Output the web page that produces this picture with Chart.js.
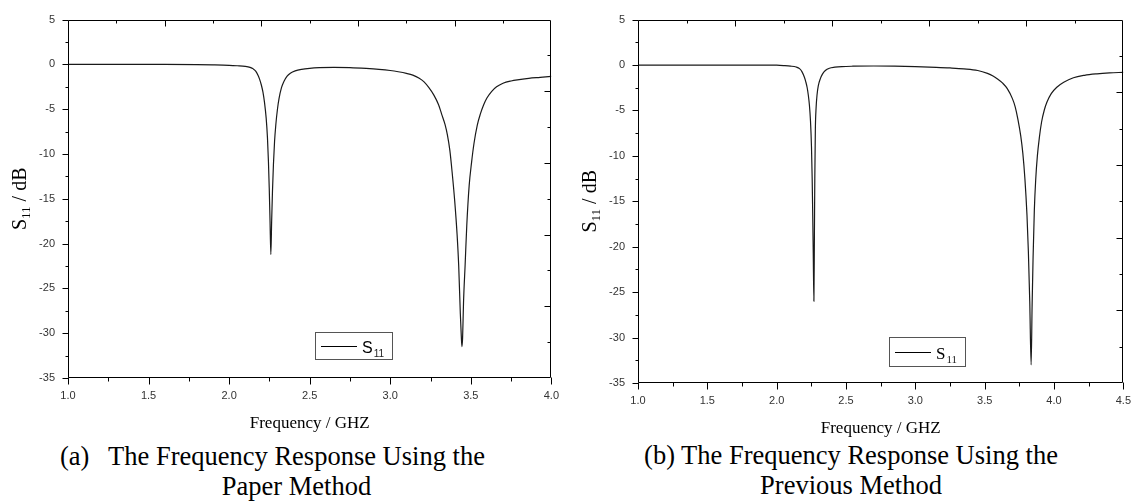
<!DOCTYPE html>
<html>
<head>
<meta charset="utf-8">
<script src="https://cdn.jsdelivr.net/npm/chart.js@4.4.1/dist/chart.umd.min.js"></script>
<style>
  body { margin: 0; background: #fff; width: 1142px; height: 501px; position: relative; overflow: hidden; }
  .box { position: absolute; top: 0; height: 440px; }
  .cap { position: absolute; font-family: "Liberation Serif", "Times New Roman", serif; font-size: 26.5px; color: #000; white-space: nowrap; }
</style>
</head>
<body>
<div class="box" style="left:0;width:570px"><canvas id="chartA"></canvas></div>
<div class="box" style="left:570px;width:572px"><canvas id="chartB"></canvas></div>
<div class="cap" style="left:60px;top:441px;line-height:30px">(a)</div>
<div class="cap" style="left:108px;top:441px;width:377px;text-align:center;line-height:30px">The Frequency Response Using the<br>Paper Method</div>
<div class="cap" style="left:643px;top:441px;width:416px;text-align:center;line-height:29.5px">(b) The Frequency Response Using the<br>Previous Method</div>
<script>
// (a) paper method
var freqA = [1.0, 1.2, 1.4, 1.6, 1.8, 1.9, 2.0, 2.05, 2.1, 2.13,
  2.15, 2.165, 2.18, 2.19, 2.2, 2.21, 2.22, 2.23, 2.238, 2.244,
  2.249, 2.254, 2.259, 2.264, 2.269, 2.275, 2.282, 2.29, 2.3, 2.31,
  2.325, 2.34, 2.36, 2.38, 2.41, 2.45, 2.5, 2.56, 2.65, 2.75,
  2.85, 2.93, 3.0, 3.05, 3.1, 3.14, 3.18, 3.21, 3.24, 3.27,
  3.3, 3.32, 3.34, 3.355, 3.37, 3.385, 3.4, 3.415, 3.425, 3.435,
  3.441, 3.445, 3.449, 3.455, 3.465, 3.475, 3.49, 3.505, 3.52, 3.54,
  3.56, 3.58, 3.6, 3.63, 3.66, 3.7, 3.75, 3.8, 3.86, 3.93,
  4.0];
var s11A = [0, 0, 0, 0, -0.02, -0.05, -0.1, -0.15, -0.22, -0.33,
  -0.5, -0.75, -1.25, -1.7, -2.3, -3.1, -4.3, -6.0, -8.2, -10.8,
  -13.8, -17.5, -21.2, -17.5, -14.2, -11.2, -8.6, -6.7, -5.0, -3.8,
  -2.6, -1.9, -1.3, -0.98, -0.72, -0.55, -0.44, -0.37, -0.33, -0.36,
  -0.45, -0.55, -0.68, -0.82, -1.0, -1.2, -1.55, -1.95, -2.6, -3.4,
  -4.5, -5.6, -6.7, -7.9, -9.6, -12.2, -15.2, -19.0, -22.5, -27.8,
  -30.3, -31.5, -30.6, -26.5, -22.3, -18.0, -13.5, -10.9, -8.8, -6.8,
  -5.5, -4.5, -3.75, -3.0, -2.5, -2.1, -1.85, -1.7, -1.55, -1.44,
  -1.33];

// (b) previous method
var freqB = [1.0, 1.5, 1.9, 2.0, 2.05, 2.1, 2.14, 2.165, 2.183, 2.2,
  2.21, 2.22, 2.228, 2.236, 2.244, 2.251, 2.256, 2.26, 2.264, 2.2685,
  2.272, 2.275, 2.279, 2.284, 2.291, 2.3, 2.315, 2.33, 2.351, 2.38,
  2.42, 2.47, 2.55, 2.7, 2.85, 3.0, 3.15, 3.25, 3.35, 3.45,
  3.52, 3.56, 3.59, 3.63, 3.663, 3.7, 3.72, 3.74, 3.76, 3.775,
  3.79, 3.805, 3.815, 3.825, 3.835, 3.842, 3.849, 3.858, 3.868, 3.88,
  3.895, 3.91, 3.93, 3.95, 3.98, 4.02, 4.07, 4.14, 4.22, 4.31,
  4.4, 4.5];
var s11B = [0, 0, 0, -0.02, -0.06, -0.12, -0.22, -0.4, -0.75, -1.35,
  -1.85, -2.5, -3.3, -4.4, -6.2, -9.0, -12.5, -16.5, -21.0, -26.0,
  -19.0, -12.5, -7.0, -4.8, -3.3, -2.3, -1.5, -1.0, -0.6, -0.35,
  -0.24, -0.17, -0.13, -0.11, -0.13, -0.17, -0.25, -0.32, -0.42, -0.6,
  -0.92, -1.2, -1.5, -2.0, -2.6, -3.7, -4.6, -6.0, -7.8, -9.7,
  -12.5, -16.5, -20.5, -26.0, -33.0, -26.5, -21.2, -16.0, -12.6, -10.0,
  -7.9, -6.3, -4.95, -4.05, -3.15, -2.45, -1.9, -1.4, -1.13, -0.97,
  -0.87, -0.8];

var xTicksA = [1.0, 1.5, 2.0, 2.5, 3.0, 3.5, 4.0];
var xTicksB = [1.0, 1.5, 2.0, 2.5, 3.0, 3.5, 4.0, 4.5];
var yTicks = [5, 0, -5, -10, -15, -20, -25, -30, -35];

// frame, minor ticks, axis titles and legend box
var framePlugin = {
  id: 'frame',
  afterDraw: function (chart, args, o) {
    var ctx = chart.ctx, a = chart.chartArea;
    var x = chart.scales.x, y = chart.scales.y;
    var L = Math.round(a.left) + 0.5, R = Math.round(a.right) - 0.5;
    var T = Math.round(a.top) + 0.5, B = Math.round(a.bottom) - 0.5;
    ctx.save();
    ctx.strokeStyle = '#000';
    ctx.lineWidth = 1;
    ctx.beginPath();
    ctx.rect(L, T, R - L, B - T);

    // bottom + left: outward ticks at the labelled values, minors half way
    var xt = o.xTicks, yt = o.yTicks, i, p, v;
    for (i = 0; i < xt.length; i++) {
      p = Math.round(x.getPixelForValue(xt[i])) + 0.5;
      ctx.moveTo(p, B); ctx.lineTo(p, B + 7);
      if (i < xt.length - 1) {
        p = Math.round(x.getPixelForValue((xt[i] + xt[i + 1]) / 2)) + 0.5;
        ctx.moveTo(p, B); ctx.lineTo(p, B + 4);
      }
    }
    for (i = 0; i < yt.length; i++) {
      p = Math.round(y.getPixelForValue(yt[i])) + 0.5;
      ctx.moveTo(L, p); ctx.lineTo(L - 6, p);
      if (i < yt.length - 1) {
        p = Math.round(y.getPixelForValue((yt[i] + yt[i + 1]) / 2)) + 0.5;
        ctx.moveTo(L, p); ctx.lineTo(L - 3, p);
      }
    }
    // top + right: inward ticks, ten divisions
    for (i = 1; i < 10; i++) {
      v = x.min + (x.max - x.min) * i / 10;
      p = Math.round(x.getPixelForValue(v)) + 0.5;
      ctx.moveTo(p, T); ctx.lineTo(p, T + (i % 2 ? 3 : 6));
      v = y.min + (y.max - y.min) * i / 10;
      p = Math.round(y.getPixelForValue(v)) + 0.5;
      ctx.moveTo(R, p); ctx.lineTo(R - (i % 2 ? 3 : 6), p);
    }
    ctx.stroke();

    // axis titles
    var serif = '"Liberation Serif", "Times New Roman", serif';
    ctx.fillStyle = '#000';
    ctx.textBaseline = 'alphabetic';
    ctx.textAlign = 'center';
    ctx.font = '17px ' + serif;
    ctx.fillText('Frequency / GHZ', (a.left + a.right) / 2, o.xTitleY);

    ctx.save();
    ctx.translate(o.yTitleX, (a.top + a.bottom) / 2);
    ctx.rotate(-Math.PI / 2);
    ctx.textAlign = 'left';
    ctx.font = '20px ' + serif;
    var w1 = ctx.measureText('S').width, w3 = ctx.measureText(' / dB').width;
    ctx.font = '13px ' + serif;
    var w2 = ctx.measureText('11').width;
    var s = -(w1 + w2 + w3) / 2;
    ctx.font = '20px ' + serif;
    ctx.fillText('S', s, 0);
    ctx.font = '13px ' + serif;
    ctx.fillText('11', s + w1, 4);
    ctx.font = '20px ' + serif;
    ctx.fillText(' / dB', s + w1 + w2, 0);
    ctx.restore();

    // legend
    var lg = o.legend;
    ctx.strokeStyle = '#555';
    ctx.strokeRect(lg.x + 0.5, lg.y + 0.5, lg.w, lg.h);
    var my = Math.round(lg.y + lg.h / 2) + 0.5;
    ctx.strokeStyle = '#000';
    ctx.beginPath();
    ctx.moveTo(lg.x + 6, my); ctx.lineTo(lg.x + 42, my);
    ctx.stroke();
    var fam = lg.serif ? serif : '"Liberation Sans", Arial, sans-serif';
    ctx.textAlign = 'left';
    ctx.font = lg.size + 'px ' + fam;
    ctx.fillText('S', lg.x + 47, my + 6);
    var sw = ctx.measureText('S').width;
    ctx.font = Math.round(lg.size * 0.62) + 'px ' + fam;
    ctx.fillStyle = '#222';
    ctx.fillText('11', lg.x + 48 + sw, my + 10);
    ctx.restore();
  }
};

function makeChart(id, freq, vals, xTicks, xMax, padRight, xHeight, frameOpts) {
  var points = freq.map(function (f, i) { return { x: f, y: vals[i] }; });
  var tickFont = { family: '"Liberation Sans", Arial, sans-serif', size: 11 };
  return new Chart(document.getElementById(id), {
    type: 'line',
    data: {
      datasets: [{
        label: 'S11',
        data: points,
        borderColor: '#1a1a1a',
        borderWidth: 1.2,
        pointRadius: 0,
        cubicInterpolationMode: 'monotone',
        fill: false
      }]
    },
    options: {
      responsive: true,
      maintainAspectRatio: false,
      animation: false,
      layout: { padding: { left: 0, top: 17, right: padRight, bottom: 0 } },
      plugins: { legend: { display: false }, tooltip: { enabled: false }, frame: frameOpts },
      scales: {
        x: {
          type: 'linear', min: 1.0, max: xMax,
          grid: { display: false, drawTicks: false },
          border: { display: false },
          afterBuildTicks: function (s) { s.ticks = xTicks.map(function (v) { return { value: v }; }); },
          afterFit: function (s) { s.height = xHeight; },
          ticks: { font: tickFont, color: '#333', padding: 11, maxRotation: 0,
            callback: function (v) { return v.toFixed(1); } }
        },
        y: {
          type: 'linear', min: -35, max: 5,
          grid: { display: false, drawTicks: false },
          border: { display: false },
          afterBuildTicks: function (s) { s.ticks = yTicks.map(function (v) { return { value: v }; }); },
          afterFit: function (s) { s.width = 68; },
          ticks: { font: tickFont, color: '#333', padding: 13,
            callback: function (v) { return String(v); } }
        }
      }
    },
    plugins: [framePlugin]
  });
}

makeChart('chartA', freqA, s11A, xTicksA, 4.0, 18, 62, {
  xTicks: xTicksA, yTicks: yTicks, xTitleY: 428, yTitleX: 26,
  legend: { x: 315, y: 332, w: 77, h: 27, size: 16, serif: false }
});
makeChart('chartB', freqB, s11B, xTicksB, 4.5, 15, 57, {
  xTicks: xTicksB, yTicks: yTicks, xTitleY: 433, yTitleX: 26,
  legend: { x: 319, y: 337, w: 76, h: 29, size: 17, serif: true }
});
</script>
</body>
</html>
